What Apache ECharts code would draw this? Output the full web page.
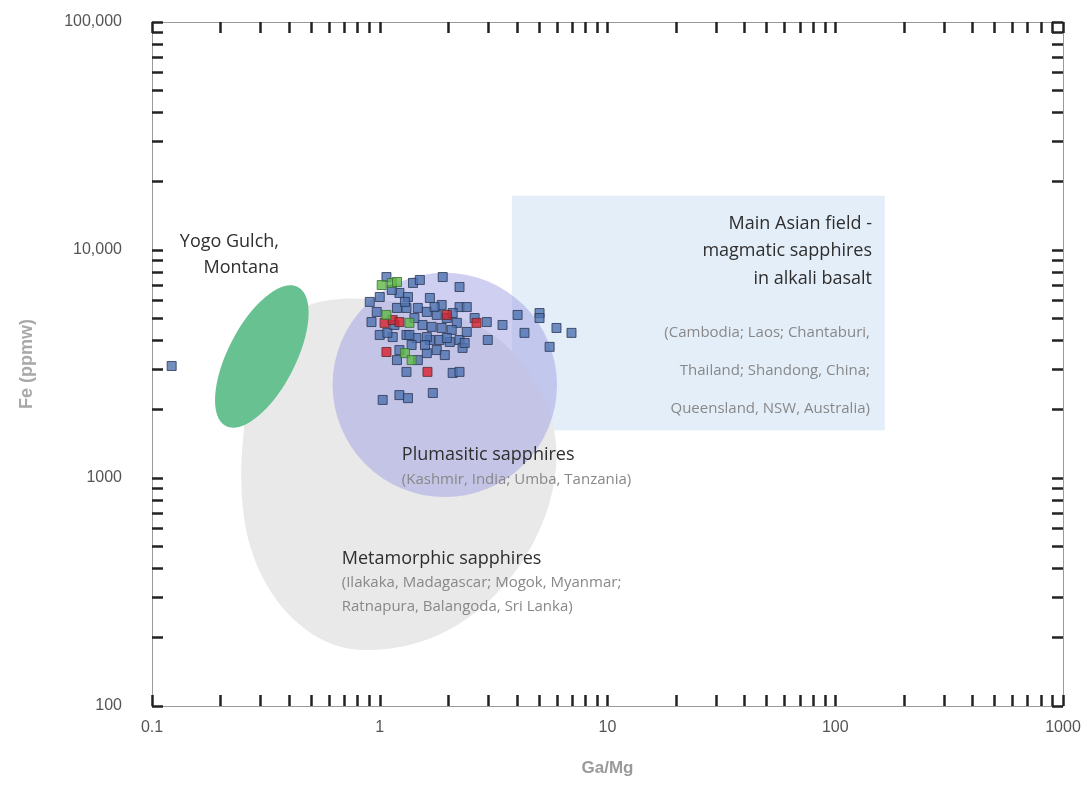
<!DOCTYPE html>
<html><head><meta charset="utf-8">
<script src="https://cdn.jsdelivr.net/npm/echarts@6/dist/echarts.min.js"></script>
<style>html,body{margin:0;padding:0;background:#fff}#c{width:1086px;height:791px}</style>
</head><body><div id="c"></div><script>
// ---- axis ticks ----
const xTickValues = [0.1,0.2,0.3,0.4,0.5,0.6,0.7,0.8,0.9,1,2,3,4,5,6,7,8,9,10,20,30,40,50,60,70,80,90,100,200,300,400,500,600,700,800,900,1000];
const yTickValues = [100,200,300,400,500,600,700,800,900,1000,2000,3000,4000,5000,6000,7000,8000,9000,10000,20000,30000,40000,50000,60000,70000,80000,90000,100000];

// ---- sample points (Ga/Mg, Fe ppmw) ----
const blueGa = [1.07,1.40,1.50,1.89,2.24,0.904,1.00,1.22,1.33,1.66,1.87,2.24,2.41,0.97,1.19,1.31,1.47,1.61,1.78,1.97,2.18,1.54,1.69,1.87,2.07,1.00,1.14,1.31,1.45,1.66,1.83,2.03,2.24,2.41,1.08,1.35,1.61,1.97,1.22,1.47,1.19,1.61,1.78,2.31,1.31,2.09,2.24,1.03,1.22,1.33,1.71,2.61,2.95,2.98,3.46,4.03,5.03,5.03,4.32,5.97,6.95,5.57,2.36,0.122,1.13,1.29,1.42,1.16,1.58,1.93,0.92,1.38,1.74,2.09];
const blueFe = [7610,7170,7390,7610,6880,5920,6220,6480,6220,6160,5740,5620,5620,5350,5570,5570,5570,5350,5190,5030,4790,4690,4600,4550,4460,4240,4150,4240,4110,4030,4030,3950,4030,4370,4330,4240,4150,4110,3640,3290,3290,3530,3640,3720,2920,2890,2920,2200,2310,2240,2360,5030,4830,4030,4690,5190,5290,5030,4330,4550,4330,3760,3910,3100,6680,5920,5030,4690,3830,3460,4830,3830,5620,5290];
const redGa = [1.05,1.14,1.22,1.97,2.66,1.07,1.62];
const redFe = [4790,4930,4830,5190,4790,3570,2920];
const greenGa = [1.02,1.13,1.19,1.07,1.35,1.29,1.38];
const greenFe = [7020,7170,7240,5190,4790,3530,3290];

// ---- fields ----
const asianGa = [3.8, 165];
const asianFe = [1620, 17300];
const metaGa = [0.283,0.403,0.603,1.0,1.83,3.36,5.03,5.92,5.74,4.79,3.53,2.36,1.50,0.904,0.635,0.446,0.329,0.269,0.248,0.251];
const metaFe = [3290,5190,6030,6030,5460,4030,2430,1470,886,535,340,238,191,176,185,227,323,508,842,1470];
const plumCenter = [1.93, 2560];
const plumEdge = [6.0, 2560];
const yogoGa = [0.437, 0.211];
const yogoFe = [6880, 1690];
const yogoWidthRatio = 0.43;

// ---- annotations ----
const noteText = ['Yogo Gulch,\nMontana','Main Asian field -\nmagmatic sapphires\nin alkali basalt','(Cambodia; Laos; Chantaburi,\nThailand; Shandong, China;\nQueensland, NSW, Australia)','Plumasitic sapphires','(Kashmir, India; Umba, Tanzania)','Metamorphic sapphires','(Ilakaka, Madagascar; Mogok, Myanmar;\nRatnapura, Balangoda, Sri Lanka)'];
const noteGa = [0.361, 145, 142, 1.25, 1.25, 0.681, 0.681];
const noteFe = [12370, 14980, 5240, 1410, 1084, 493, 391];
const noteAlign = ['right','right','right','left','left','left','left'];
const noteKind = ['h','h','s','h','s','h','s'];

const headStyle = {fontFamily:'Open Sans', fontSize:18, fill:'#2e2e2e'};
const subStyle = {fontFamily:'Open Sans', fontSize:15, fill:'#888888'};
const noteLineHeight = [26, 27.5, 38, 22, 19, 22, 24];

const chart = echarts.init(document.getElementById('c'), null, {renderer:'canvas'});
const zip = (a,b) => a.map((v,i)=>[v,b[i]]);
const tickStyle = {show:true, inside:true, length:11, lineStyle:{color:'#222', width:2.5}};
const lineStyle = {show:true, lineStyle:{color:'#9a9a9a', width:1}};

const option = {
  animation:false,
  backgroundColor:'#ffffff',
  grid:{left:152, right:23, top:22, bottom:85, containLabel:false},
  xAxis:[
    {type:'log', logBase:10, min:0.1, max:1000, position:'bottom',
     name:'Ga/Mg', nameLocation:'middle', nameGap:54,
     nameTextStyle:{color:'#9a9a9a', fontSize:17, fontWeight:'bold', fontFamily:'Liberation Sans'},
     axisLine:lineStyle, axisTick:Object.assign({customValues:xTickValues}, tickStyle),
     axisLabel:{color:'#555', fontSize:16, fontFamily:'Liberation Sans', margin:14, formatter:v=>String(v)},
     splitLine:{show:false}, minorTick:{show:false}},
    {type:'log', logBase:10, min:0.1, max:1000, position:'top',
     axisLine:lineStyle, axisTick:Object.assign({customValues:xTickValues}, tickStyle),
     axisLabel:{show:false}, splitLine:{show:false}}
  ],
  yAxis:[
    {type:'log', logBase:10, min:100, max:100000, position:'left',
     name:'Fe (ppmw)', nameLocation:'middle', nameGap:116, nameRotate:90,
     nameTextStyle:{color:'#a8a8a8', fontSize:18, fontWeight:'bold', fontFamily:'Liberation Sans'},
     axisLine:lineStyle, axisTick:Object.assign({customValues:yTickValues}, tickStyle),
     axisLabel:{color:'#555', fontSize:16, fontFamily:'Liberation Sans', margin:30,
       formatter:v=> v>=10000 ? v.toLocaleString('en-US') : String(v)},
     splitLine:{show:false}},
    {type:'log', logBase:10, min:100, max:100000, position:'right',
     axisLine:lineStyle, axisTick:Object.assign({customValues:yTickValues}, tickStyle),
     axisLabel:{show:false}, splitLine:{show:false}}
  ],
  series:[
    {type:'custom', silent:true, z:1, data:[[asianGa[0], asianFe[0]]],
     renderItem:(params, api)=>{
       const p0 = api.coord([asianGa[0], asianFe[1]]);
       const p1 = api.coord([asianGa[1], asianFe[0]]);
       return {type:'rect', shape:{x:p0[0], y:p0[1], width:p1[0]-p0[0], height:p1[1]-p0[1]}, style:{fill:'#e4eef9'}};
     }},
    {type:'custom', silent:true, z:2, data:[[metaGa[0], metaFe[0]]],
     renderItem:(params, api)=>{
       const pts = metaGa.map((g,i)=>api.coord([g, metaFe[i]]));
       return {type:'polygon', shape:{points:pts, smooth:0.35}, style:{fill:'#e9e9e9'}};
     }},
    {type:'custom', silent:true, z:3, data:[plumCenter],
     renderItem:(params, api)=>{
       const c = api.coord(plumCenter), e = api.coord(plumEdge);
       return {type:'circle', shape:{cx:c[0], cy:c[1], r:Math.abs(e[0]-c[0])}, style:{fill:'rgba(160,160,228,0.5)'}};
     }},
    {type:'custom', silent:true, z:4, data:[[yogoGa[0], yogoFe[0]]],
     renderItem:(params, api)=>{
       const p1 = api.coord([yogoGa[0], yogoFe[0]]);
       const p2 = api.coord([yogoGa[1], yogoFe[1]]);
       const dx = p1[0]-p2[0], dy = p1[1]-p2[1];
       const a = Math.hypot(dx,dy)/2;
       return {type:'ellipse', x:(p1[0]+p2[0])/2, y:(p1[1]+p2[1])/2, rotation:-Math.atan2(dy,dx),
         shape:{cx:0, cy:0, rx:a, ry:a*yogoWidthRatio}, style:{fill:'#67c191'}};
     }},
    {type:'scatter', z:5, symbol:'rect', symbolSize:9, data:zip(blueGa, blueFe),
     itemStyle:{color:'#4f73b0', borderColor:'#2a3654', borderWidth:1}},
    {type:'scatter', z:6, symbol:'rect', symbolSize:9, data:zip(redGa, redFe),
     itemStyle:{color:'#d8222c', borderColor:'#5a2a30', borderWidth:1}},
    {type:'scatter', z:6, symbol:'rect', symbolSize:9, data:zip(greenGa, greenFe),
     itemStyle:{color:'#5fb846', borderColor:'#3a6a3a', borderWidth:1}},
    {type:'custom', silent:true, z:10, data:zip(noteGa, noteFe),
     renderItem:(params, api)=>{
       const i = params.dataIndex;
       const p = api.coord([noteGa[i], noteFe[i]]);
       const base = noteKind[i]==='h' ? headStyle : subStyle;
       return {type:'text', x:p[0], y:p[1], style:Object.assign({}, base, {text:noteText[i], align:noteAlign[i], verticalAlign:'top', lineHeight:noteLineHeight[i]})};
     }}
  ]
};
chart.setOption(option);
</script></body></html>
